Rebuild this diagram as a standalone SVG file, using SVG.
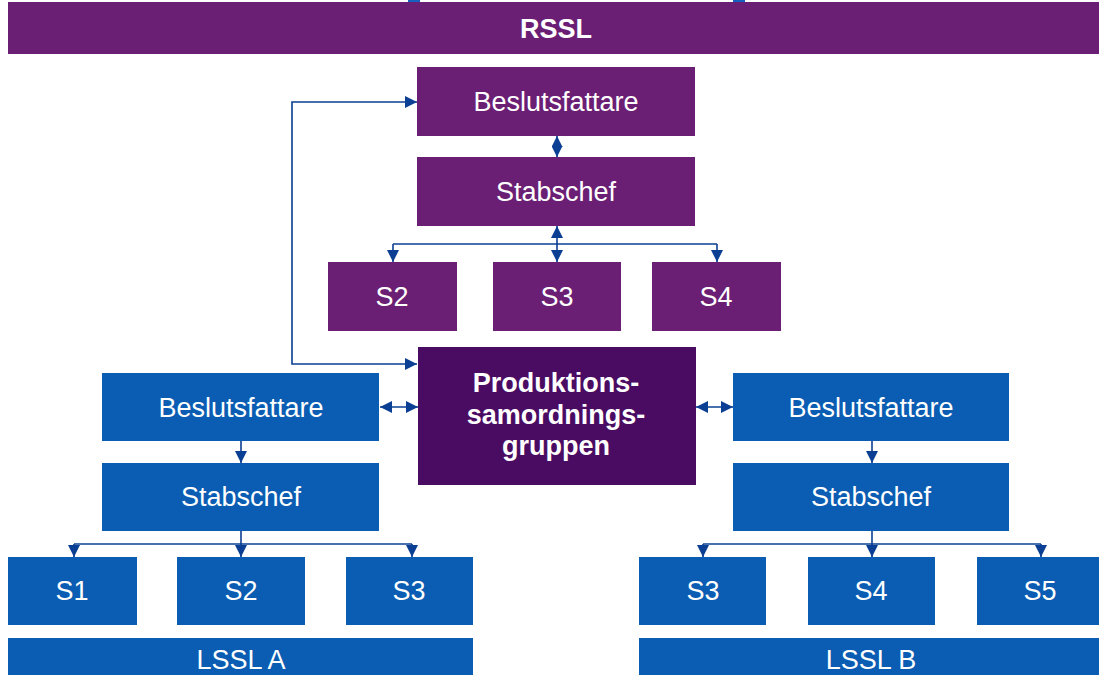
<svg xmlns="http://www.w3.org/2000/svg" width="1099" height="675" viewBox="0 0 1099 675">
  <style>
    .purple { fill: #6b1f74; }
    .deep { fill: #4a0c63; }
    .blue { fill: #0a5db2; }
    .lbl { font-family: "Liberation Sans", Arial, sans-serif; font-size: 27px; fill: #ffffff; text-anchor: middle; }
    .bold { font-weight: bold; }
    .conn { fill: none; stroke: #0b3f93; stroke-width: 1.6; }
  </style>
  <defs>
    <marker id="tip" viewBox="0 0 12 12" refX="12" refY="6" markerWidth="12" markerHeight="12" markerUnits="userSpaceOnUse" orient="auto-start-reverse">
      <path d="M0,0 L12,6 L0,12 Z" fill="#0b3f93"/>
    </marker>
    <marker id="tipLong" viewBox="0 0 11 11" refX="11" refY="5.5" markerWidth="11" markerHeight="11" markerUnits="userSpaceOnUse" orient="auto-start-reverse">
      <path d="M0,0 L11,5.5 L0,11 Z" fill="#0b3f93"/>
    </marker>
  </defs>

  <rect width="1099" height="675" fill="#ffffff"/>

  <!-- small marks cut off at the upper edge -->
  <rect x="408" y="0" width="12" height="2" fill="#1660c0"/>
  <rect x="733" y="0" width="12" height="2" fill="#1660c0"/>

  <!-- regional staff -->
  <g id="rssl">
    <rect class="purple" x="8" y="2" width="1091" height="52"/>
    <text class="lbl bold" x="556" y="38">RSSL</text>
  </g>
  <g id="r-beslut">
    <rect class="purple" x="417" y="67" width="278" height="69"/>
    <text class="lbl" x="556" y="111">Beslutsfattare</text>
  </g>
  <g id="r-stab">
    <rect class="purple" x="417" y="157" width="278" height="69"/>
    <text class="lbl" x="556" y="201">Stabschef</text>
  </g>
  <g id="r-s2">
    <rect class="purple" x="328" y="262" width="129" height="69"/>
    <text class="lbl" x="392" y="306">S2</text>
  </g>
  <g id="r-s3">
    <rect class="purple" x="493" y="262" width="128" height="69"/>
    <text class="lbl" x="557" y="306">S3</text>
  </g>
  <g id="r-s4">
    <rect class="purple" x="652" y="262" width="129" height="69"/>
    <text class="lbl" x="716" y="306">S4</text>
  </g>

  <!-- coordination group -->
  <g id="psg">
    <rect class="deep" x="418" y="347" width="278" height="138"/>
    <text class="lbl bold" x="556" y="392">Produktions-</text>
    <text class="lbl bold" x="556" y="424">samordnings-</text>
    <text class="lbl bold" x="556" y="455">gruppen</text>
  </g>

  <!-- local staff A -->
  <g id="a-beslut">
    <rect class="blue" x="102" y="373" width="277" height="68"/>
    <text class="lbl" x="241" y="417">Beslutsfattare</text>
  </g>
  <g id="a-stab">
    <rect class="blue" x="102" y="463" width="277" height="68"/>
    <text class="lbl" x="241" y="506">Stabschef</text>
  </g>
  <g id="a-s1">
    <rect class="blue" x="8" y="557" width="129" height="68"/>
    <text class="lbl" x="72" y="600">S1</text>
  </g>
  <g id="a-s2">
    <rect class="blue" x="177" y="557" width="128" height="68"/>
    <text class="lbl" x="241" y="600">S2</text>
  </g>
  <g id="a-s3">
    <rect class="blue" x="346" y="557" width="127" height="68"/>
    <text class="lbl" x="409" y="600">S3</text>
  </g>
  <g id="lssl-a">
    <rect class="blue" x="8" y="638" width="465" height="50"/>
    <text class="lbl" x="241" y="669">LSSL A</text>
  </g>

  <!-- local staff B -->
  <g id="b-beslut">
    <rect class="blue" x="733" y="373" width="276" height="68"/>
    <text class="lbl" x="871" y="417">Beslutsfattare</text>
  </g>
  <g id="b-stab">
    <rect class="blue" x="733" y="463" width="276" height="68"/>
    <text class="lbl" x="871" y="506">Stabschef</text>
  </g>
  <g id="b-s3">
    <rect class="blue" x="639" y="557" width="127" height="68"/>
    <text class="lbl" x="703" y="600">S3</text>
  </g>
  <g id="b-s4">
    <rect class="blue" x="808" y="557" width="127" height="68"/>
    <text class="lbl" x="871" y="600">S4</text>
  </g>
  <g id="b-s5">
    <rect class="blue" x="977" y="557" width="130" height="68"/>
    <text class="lbl" x="1040" y="600">S5</text>
  </g>
  <g id="lssl-b">
    <rect class="blue" x="639" y="638" width="470" height="50"/>
    <text class="lbl" x="871" y="669">LSSL B</text>
  </g>

  <!-- connectors -->
  <g id="connectors">
    <!-- decision maker to chief of staff, both ways -->
    <path class="conn" d="M557,136 V157" marker-start="url(#tipLong)" marker-end="url(#tipLong)"/>
    <!-- chief of staff to S-sections -->
    <path class="conn" d="M557,226 V244" marker-start="url(#tip)"/>
    <path class="conn" d="M393,244 H717"/>
    <path class="conn" d="M393,244 V262" marker-end="url(#tip)"/>
    <path class="conn" d="M557,244 V262" marker-end="url(#tip)"/>
    <path class="conn" d="M717,244 V262" marker-end="url(#tip)"/>
    <!-- loop linking regional decision maker and coordination group -->
    <path class="conn" d="M417,102 H292 V364 H417" marker-start="url(#tip)" marker-end="url(#tip)"/>
    <!-- coordination group to local decision makers -->
    <path class="conn" d="M380,407 H418" marker-start="url(#tip)" marker-end="url(#tip)"/>
    <path class="conn" d="M696,407 H733" marker-start="url(#tip)" marker-end="url(#tip)"/>

    <!-- local A -->
    <path class="conn" d="M241,441 V463" marker-end="url(#tip)"/>
    <path class="conn" d="M241,531 V544"/>
    <path class="conn" d="M74,544 H412"/>
    <path class="conn" d="M74,544 V557" marker-end="url(#tip)"/>
    <path class="conn" d="M241,544 V557" marker-end="url(#tip)"/>
    <path class="conn" d="M412,544 V557" marker-end="url(#tip)"/>

    <!-- local B -->
    <path class="conn" d="M872,441 V463" marker-end="url(#tip)"/>
    <path class="conn" d="M872,531 V544"/>
    <path class="conn" d="M703,544 H1041"/>
    <path class="conn" d="M703,544 V557" marker-end="url(#tip)"/>
    <path class="conn" d="M872,544 V557" marker-end="url(#tip)"/>
    <path class="conn" d="M1041,544 V557" marker-end="url(#tip)"/>
  </g>
</svg>
